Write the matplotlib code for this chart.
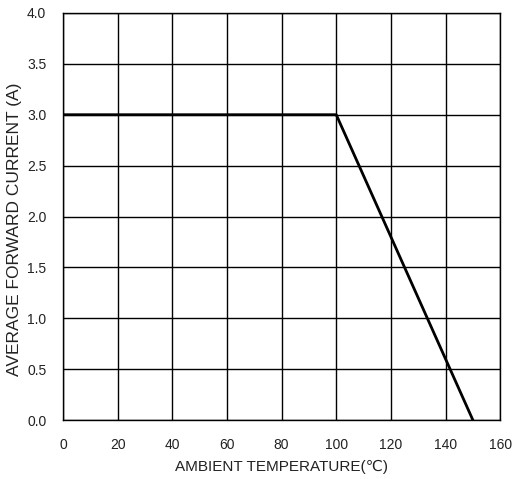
import matplotlib
matplotlib.use('Agg')
import matplotlib.pyplot as plt

# derating curve
temp = [0, 100, 150]
current = [3.0, 3.0, 0.0]

xticks = [0, 20, 40, 60, 80, 100, 120, 140, 160]
yticks = [0.0, 0.5, 1.0, 1.5, 2.0, 2.5, 3.0, 3.5, 4.0]

plt.rcParams['font.family'] = ['Liberation Sans', 'DejaVu Sans']

fig = plt.figure(figsize=(5.12, 4.79), dpi=100)
ax = fig.add_axes([0.123, 0.123, 0.854, 0.850])

ax.plot(temp, current, color='black', linewidth=2.0, zorder=3)

ax.set_xlim(0, 160)
ax.set_ylim(0, 4.0)
ax.set_xticks(xticks)
ax.set_yticks(yticks)
ax.set_yticklabels(['%.1f' % v for v in yticks])
ax.grid(True, color='black', linewidth=1.0)
ax.tick_params(length=0, labelsize=10, colors='#222222')
ax.tick_params(axis='x', pad=13)
ax.tick_params(axis='y', pad=12)
for s in ax.spines.values():
    s.set_linewidth(1.0)
    s.set_color('black')

ax.set_xlabel('AMBIENT TEMPERATURE(℃)', fontsize=11, color='#222222', va='center')
ax.xaxis.set_label_coords(0.50, -0.115)
ax.set_ylabel('AVERAGE FORWARD CURRENT (A)', fontsize=12.5, color='#222222', va='center')
ax.yaxis.set_label_coords(-0.112, 0.469)

fig.savefig('out.png', dpi=100)
